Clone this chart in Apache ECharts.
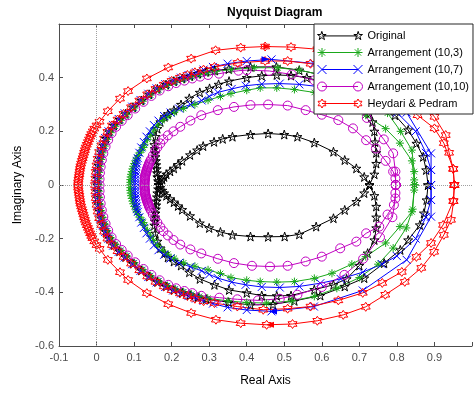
<!DOCTYPE html>
<html>
<head>
<meta charset="utf-8">
<script src="https://cdn.jsdelivr.net/npm/echarts@6.0.0/dist/echarts.min.js"></script>
<style>
  html, body { margin: 0; padding: 0; background: #fff; }
  #chart { width: 475px; height: 395px; }
</style>
</head>
<body>
<div id="chart"></div>
<script>
// axis ranges
const xRange = [-0.1, 1];
const yRange = [-0.6, 0.6];

const names = ['Original', 'Arrangement (10,3)', 'Arrangement (10,7)', 'Arrangement (10,10)', 'Heydari & Pedram'];

// Original (black) - three loops
const blackInner = [[0.165,0],[0.17,0.01],[0.175,0.02],[0.18,0.03],[0.186,0.04],[0.196,0.051],[0.206,0.062],[0.217,0.076],[0.228,0.09],[0.249,0.112],[0.268,0.13],[0.284,0.145],[0.313,0.161],[0.336,0.172],[0.362,0.18],[0.41,0.188],[0.457,0.192],[0.5,0.188],[0.535,0.18],[0.58,0.158],[0.631,0.124],[0.661,0.093],[0.692,0.062],[0.713,0.03],[0.727,0],[0.713,-0.03],[0.692,-0.062],[0.661,-0.093],[0.631,-0.124],[0.585,-0.155],[0.54,-0.184],[0.501,-0.192],[0.457,-0.193],[0.41,-0.192],[0.362,-0.186],[0.33,-0.175],[0.3,-0.16],[0.275,-0.142],[0.249,-0.115],[0.228,-0.092],[0.217,-0.078],[0.206,-0.064],[0.196,-0.052],[0.186,-0.04],[0.18,-0.03],[0.175,-0.02],[0.17,-0.01],[0.165,0]];
const blackMiddle = [[0.727,0],[0.74,0.04],[0.745,0.08],[0.745,0.12],[0.742,0.16],[0.74,0.2],[0.735,0.235],[0.727,0.267],[0.7,0.31],[0.66,0.35],[0.6,0.385],[0.56,0.4],[0.518,0.408],[0.48,0.41],[0.44,0.407],[0.4,0.4],[0.353,0.387],[0.325,0.375],[0.301,0.36],[0.275,0.345],[0.247,0.323],[0.225,0.3],[0.206,0.279],[0.19,0.265],[0.181,0.254],[0.17,0.235],[0.162,0.21],[0.157,0.18],[0.154,0.15],[0.155,0.135],[0.156,0.12],[0.157,0.105],[0.158,0.09],[0.159,0.075],[0.16,0.06],[0.161,0.045],[0.162,0.03],[0.164,0.015],[0.165,0],[0.164,-0.015],[0.162,-0.03],[0.161,-0.045],[0.16,-0.06],[0.159,-0.075],[0.158,-0.09],[0.157,-0.105],[0.156,-0.12],[0.155,-0.135],[0.154,-0.15],[0.157,-0.18],[0.162,-0.21],[0.17,-0.235],[0.181,-0.254],[0.19,-0.27],[0.206,-0.285],[0.225,-0.3],[0.247,-0.325],[0.275,-0.35],[0.314,-0.372],[0.353,-0.391],[0.4,-0.402],[0.44,-0.412],[0.48,-0.413],[0.518,-0.412],[0.58,-0.39],[0.631,-0.372],[0.666,-0.35],[0.7,-0.3],[0.722,-0.254],[0.74,-0.205],[0.745,-0.16],[0.745,-0.12],[0.745,-0.08],[0.74,-0.04],[0.727,0]];
const blackOuter = [[0.883,0],[0.878,0.056],[0.87,0.105],[0.852,0.155],[0.83,0.205],[0.795,0.26],[0.76,0.295],[0.72,0.33],[0.66,0.38],[0.6,0.41],[0.54,0.428],[0.479,0.44],[0.41,0.44],[0.352,0.432],[0.315,0.427],[0.292,0.422],[0.27,0.415],[0.249,0.406],[0.228,0.397],[0.206,0.387],[0.185,0.374],[0.162,0.358],[0.14,0.338],[0.119,0.315],[0.097,0.29],[0.077,0.265],[0.061,0.244],[0.046,0.222],[0.034,0.198],[0.025,0.173],[0.018,0.148],[0.012,0.123],[0.008,0.098],[0.005,0.073],[0.003,0.049],[0.002,0.024],[0.002,0],[0.002,-0.024],[0.003,-0.049],[0.005,-0.074],[0.008,-0.099],[0.012,-0.124],[0.018,-0.149],[0.025,-0.174],[0.034,-0.2],[0.046,-0.224],[0.061,-0.247],[0.077,-0.268],[0.097,-0.293],[0.119,-0.318],[0.14,-0.341],[0.162,-0.361],[0.185,-0.378],[0.206,-0.391],[0.228,-0.401],[0.249,-0.41],[0.27,-0.418],[0.292,-0.425],[0.352,-0.437],[0.41,-0.447],[0.47,-0.445],[0.527,-0.432],[0.596,-0.412],[0.661,-0.378],[0.713,-0.347],[0.766,-0.291],[0.809,-0.242],[0.83,-0.205],[0.861,-0.149],[0.872,-0.105],[0.879,-0.056],[0.883,0]];

// Arrangement (10,3) (green)
const greenInner = [[0.847,0],[0.846,0.019],[0.84,0.09],[0.808,0.156],[0.77,0.21],[0.717,0.26],[0.68,0.29],[0.627,0.328],[0.58,0.345],[0.527,0.356],[0.48,0.362],[0.436,0.362],[0.4,0.353],[0.358,0.341],[0.33,0.33],[0.297,0.316],[0.262,0.3],[0.232,0.285],[0.207,0.27],[0.19,0.255],[0.175,0.24],[0.162,0.223],[0.152,0.205],[0.144,0.188],[0.136,0.17],[0.128,0.15],[0.124,0.14],[0.12,0.13],[0.115,0.12],[0.111,0.11],[0.107,0.1],[0.104,0.09],[0.101,0.08],[0.098,0.07],[0.096,0.06],[0.094,0.05],[0.092,0.04],[0.091,0.03],[0.09,0.02],[0.09,0.01],[0.09,0],[0.09,-0.01],[0.09,-0.02],[0.091,-0.03],[0.092,-0.04],[0.094,-0.05],[0.096,-0.06],[0.098,-0.07],[0.101,-0.08],[0.104,-0.09],[0.107,-0.1],[0.111,-0.11],[0.115,-0.12],[0.12,-0.13],[0.124,-0.14],[0.128,-0.15],[0.136,-0.17],[0.144,-0.19],[0.152,-0.207],[0.162,-0.225],[0.175,-0.243],[0.19,-0.258],[0.207,-0.273],[0.232,-0.29],[0.262,-0.303],[0.297,-0.316],[0.33,-0.33],[0.358,-0.345],[0.4,-0.355],[0.436,-0.36],[0.48,-0.362],[0.527,-0.36],[0.58,-0.348],[0.627,-0.329],[0.68,-0.295],[0.717,-0.267],[0.77,-0.216],[0.808,-0.155],[0.84,-0.1],[0.846,-0.019],[0.847,0]];
const greenOuter = [[0.847,0],[0.846,0.05],[0.84,0.13],[0.81,0.2],[0.775,0.268],[0.72,0.33],[0.66,0.38],[0.6,0.41],[0.54,0.428],[0.483,0.437],[0.42,0.437],[0.36,0.43],[0.318,0.424],[0.296,0.418],[0.274,0.411],[0.253,0.403],[0.232,0.394],[0.21,0.384],[0.189,0.371],[0.166,0.355],[0.144,0.335],[0.123,0.312],[0.101,0.287],[0.081,0.262],[0.065,0.241],[0.05,0.219],[0.038,0.195],[0.029,0.17],[0.022,0.145],[0.016,0.12],[0.012,0.095],[0.009,0.07],[0.007,0.047],[0.006,0.023],[0.006,0],[0.006,-0.023],[0.007,-0.047],[0.009,-0.071],[0.012,-0.096],[0.016,-0.121],[0.022,-0.146],[0.029,-0.171],[0.038,-0.197],[0.05,-0.222],[0.065,-0.244],[0.081,-0.265],[0.101,-0.29],[0.123,-0.315],[0.144,-0.338],[0.166,-0.358],[0.189,-0.375],[0.21,-0.388],[0.232,-0.398],[0.253,-0.407],[0.274,-0.415],[0.296,-0.422],[0.35,-0.432],[0.4,-0.438],[0.453,-0.44],[0.52,-0.432],[0.58,-0.415],[0.64,-0.385],[0.7,-0.345],[0.75,-0.295],[0.79,-0.235],[0.825,-0.16],[0.842,-0.09],[0.847,0]];

// Arrangement (10,7) (blue)
const blueInner = [[0.891,0],[0.891,0.056],[0.877,0.12],[0.85,0.2],[0.8,0.27],[0.76,0.3],[0.709,0.33],[0.65,0.355],[0.596,0.366],[0.54,0.375],[0.488,0.378],[0.44,0.376],[0.397,0.37],[0.36,0.358],[0.323,0.345],[0.3,0.33],[0.28,0.315],[0.25,0.3],[0.22,0.285],[0.197,0.27],[0.18,0.257],[0.165,0.24],[0.153,0.223],[0.142,0.2],[0.133,0.18],[0.126,0.16],[0.119,0.14],[0.114,0.12],[0.11,0.1],[0.108,0.09],[0.107,0.08],[0.106,0.07],[0.105,0.06],[0.104,0.05],[0.104,0.04],[0.103,0.03],[0.103,0.02],[0.103,0.01],[0.103,0],[0.103,-0.01],[0.103,-0.02],[0.103,-0.03],[0.104,-0.04],[0.104,-0.05],[0.105,-0.06],[0.106,-0.07],[0.107,-0.08],[0.108,-0.09],[0.11,-0.1],[0.114,-0.12],[0.119,-0.14],[0.126,-0.16],[0.133,-0.18],[0.142,-0.2],[0.153,-0.225],[0.165,-0.243],[0.18,-0.26],[0.197,-0.274],[0.22,-0.29],[0.25,-0.305],[0.28,-0.32],[0.3,-0.333],[0.323,-0.347],[0.36,-0.362],[0.397,-0.372],[0.44,-0.38],[0.488,-0.382],[0.54,-0.378],[0.596,-0.366],[0.65,-0.35],[0.709,-0.325],[0.76,-0.295],[0.8,-0.265],[0.85,-0.2],[0.877,-0.12],[0.891,-0.056],[0.891,0]];
const blueOuter = [[0.891,0],[0.891,0.056],[0.891,0.118],[0.826,0.27],[0.709,0.393],[0.579,0.453],[0.466,0.468],[0.4,0.462],[0.349,0.452],[0.31,0.44],[0.285,0.43],[0.265,0.42],[0.245,0.41],[0.225,0.4],[0.204,0.389],[0.183,0.376],[0.16,0.36],[0.138,0.34],[0.117,0.317],[0.095,0.292],[0.075,0.267],[0.059,0.246],[0.044,0.224],[0.032,0.2],[0.023,0.175],[0.016,0.15],[0.01,0.125],[0.006,0.1],[0.003,0.075],[0.001,0.05],[0,0.025],[0,0],[0,-0.025],[0.001,-0.05],[0.003,-0.075],[0.006,-0.1],[0.01,-0.125],[0.016,-0.15],[0.023,-0.175],[0.032,-0.2],[0.044,-0.226],[0.059,-0.249],[0.075,-0.27],[0.095,-0.295],[0.117,-0.32],[0.138,-0.343],[0.16,-0.363],[0.183,-0.38],[0.204,-0.393],[0.225,-0.404],[0.245,-0.414],[0.265,-0.423],[0.285,-0.432],[0.31,-0.442],[0.349,-0.456],[0.4,-0.466],[0.466,-0.471],[0.579,-0.453],[0.709,-0.393],[0.826,-0.279],[0.891,-0.118],[0.891,-0.056],[0.891,0]];

// Arrangement (10,10) (magenta)
const magentaInner = [[0.797,0],[0.796,0.025],[0.79,0.05],[0.77,0.09],[0.744,0.136],[0.718,0.167],[0.683,0.211],[0.644,0.242],[0.6,0.262],[0.557,0.279],[0.509,0.296],[0.457,0.3],[0.41,0.298],[0.366,0.291],[0.323,0.279],[0.279,0.26],[0.25,0.24],[0.223,0.217],[0.205,0.2],[0.19,0.185],[0.178,0.17],[0.17,0.155],[0.162,0.14],[0.156,0.126],[0.15,0.11],[0.145,0.095],[0.142,0.087],[0.14,0.08],[0.139,0.076],[0.138,0.072],[0.137,0.068],[0.136,0.065],[0.135,0.061],[0.134,0.057],[0.133,0.053],[0.133,0.05],[0.132,0.046],[0.131,0.042],[0.13,0.038],[0.13,0.035],[0.129,0.031],[0.129,0.027],[0.129,0.023],[0.129,0.02],[0.128,0.015],[0.128,0.01],[0.128,0.005],[0.128,0],[0.128,-0.005],[0.128,-0.01],[0.128,-0.015],[0.129,-0.02],[0.129,-0.023],[0.129,-0.027],[0.129,-0.031],[0.13,-0.035],[0.13,-0.038],[0.131,-0.042],[0.132,-0.046],[0.133,-0.05],[0.133,-0.053],[0.134,-0.057],[0.135,-0.061],[0.136,-0.065],[0.137,-0.068],[0.138,-0.072],[0.139,-0.076],[0.14,-0.08],[0.142,-0.087],[0.145,-0.095],[0.15,-0.11],[0.156,-0.126],[0.162,-0.14],[0.17,-0.157],[0.178,-0.172],[0.19,-0.188],[0.205,-0.205],[0.223,-0.222],[0.25,-0.24],[0.279,-0.255],[0.323,-0.275],[0.366,-0.291],[0.414,-0.301],[0.462,-0.304],[0.509,-0.301],[0.557,-0.285],[0.6,-0.267],[0.649,-0.236],[0.692,-0.211],[0.718,-0.18],[0.753,-0.155],[0.775,-0.11],[0.792,-0.074],[0.796,-0.03],[0.797,0]];
const magentaOuter = [[0.797,0],[0.796,0.05],[0.79,0.118],[0.765,0.17],[0.72,0.25],[0.68,0.3],[0.63,0.35],[0.58,0.39],[0.52,0.412],[0.46,0.425],[0.4,0.428],[0.378,0.426],[0.326,0.415],[0.297,0.41],[0.276,0.404],[0.255,0.397],[0.234,0.389],[0.212,0.38],[0.191,0.368],[0.168,0.352],[0.146,0.332],[0.125,0.31],[0.103,0.285],[0.083,0.26],[0.067,0.239],[0.052,0.217],[0.04,0.193],[0.031,0.168],[0.024,0.143],[0.018,0.118],[0.014,0.093],[0.011,0.068],[0.009,0.045],[0.008,0.022],[0.008,0],[0.008,-0.022],[0.009,-0.045],[0.011,-0.069],[0.014,-0.094],[0.018,-0.119],[0.024,-0.144],[0.031,-0.169],[0.04,-0.195],[0.052,-0.22],[0.067,-0.242],[0.083,-0.263],[0.103,-0.288],[0.125,-0.313],[0.146,-0.335],[0.168,-0.355],[0.191,-0.372],[0.212,-0.385],[0.234,-0.395],[0.255,-0.403],[0.279,-0.413],[0.327,-0.42],[0.375,-0.426],[0.43,-0.43],[0.488,-0.424],[0.535,-0.409],[0.6,-0.38],[0.66,-0.335],[0.71,-0.275],[0.755,-0.195],[0.788,-0.12],[0.796,-0.05],[0.797,0]];

// Heydari & Pedram (red)
const redInner = [[0.953,0],[0.95,0.06],[0.925,0.156],[0.9,0.211],[0.855,0.26],[0.81,0.318],[0.76,0.362],[0.709,0.398],[0.644,0.43],[0.57,0.452],[0.509,0.462],[0.449,0.462],[0.376,0.455],[0.314,0.44],[0.285,0.43],[0.262,0.42],[0.242,0.41],[0.222,0.4],[0.2,0.388],[0.179,0.374],[0.157,0.358],[0.135,0.338],[0.114,0.315],[0.092,0.29],[0.072,0.265],[0.056,0.244],[0.041,0.222],[0.029,0.198],[0.02,0.173],[0.013,0.148],[0.007,0.123],[0.003,0.098],[0,0.073],[-0.002,0.049],[-0.003,0.024],[-0.004,0],[-0.003,-0.024],[-0.002,-0.049],[0,-0.074],[0.003,-0.099],[0.007,-0.124],[0.013,-0.149],[0.02,-0.174],[0.029,-0.2],[0.041,-0.224],[0.056,-0.247],[0.072,-0.268],[0.092,-0.293],[0.114,-0.318],[0.135,-0.341],[0.157,-0.361],[0.179,-0.378],[0.2,-0.392],[0.222,-0.404],[0.242,-0.414],[0.262,-0.424],[0.285,-0.433],[0.314,-0.44],[0.375,-0.453],[0.444,-0.465],[0.509,-0.461],[0.57,-0.453],[0.644,-0.43],[0.709,-0.402],[0.761,-0.365],[0.813,-0.324],[0.852,-0.268],[0.891,-0.216],[0.923,-0.149],[0.95,-0.06],[0.953,0]];
const redOuter = [[0.953,0],[0.95,0.06],[0.939,0.12],[0.93,0.186],[0.9,0.254],[0.865,0.309],[0.821,0.361],[0.769,0.409],[0.717,0.454],[0.657,0.484],[0.588,0.506],[0.518,0.514],[0.449,0.516],[0.384,0.512],[0.317,0.502],[0.252,0.471],[0.191,0.438],[0.134,0.397],[0.084,0.35],[0.0625,0.322],[0.03,0.275],[0.008,0.236],[0,0.222],[-0.006,0.21],[-0.01,0.2],[-0.014,0.19],[-0.017,0.18],[-0.02,0.17],[-0.023,0.16],[-0.026,0.15],[-0.029,0.14],[-0.031,0.13],[-0.033,0.12],[-0.035,0.11],[-0.037,0.1],[-0.039,0.09],[-0.041,0.08],[-0.043,0.07],[-0.044,0.06],[-0.045,0.05],[-0.046,0.04],[-0.047,0.03],[-0.048,0.02],[-0.049,0.01],[-0.049,0],[-0.049,-0.01],[-0.048,-0.02],[-0.047,-0.03],[-0.046,-0.04],[-0.045,-0.05],[-0.044,-0.06],[-0.043,-0.07],[-0.041,-0.08],[-0.039,-0.09],[-0.037,-0.1],[-0.035,-0.11],[-0.033,-0.12],[-0.031,-0.13],[-0.029,-0.14],[-0.026,-0.15],[-0.023,-0.16],[-0.02,-0.17],[-0.017,-0.18],[-0.014,-0.19],[-0.011,-0.198],[-0.006,-0.21],[0,-0.224],[0.008,-0.238],[0.03,-0.279],[0.0625,-0.325],[0.084,-0.354],[0.134,-0.403],[0.191,-0.444],[0.252,-0.477],[0.318,-0.502],[0.384,-0.515],[0.453,-0.521],[0.522,-0.518],[0.588,-0.506],[0.657,-0.484],[0.717,-0.454],[0.769,-0.409],[0.821,-0.361],[0.865,-0.309],[0.899,-0.249],[0.925,-0.186],[0.944,-0.13],[0.951,-0.06],[0.953,0]];

// direction arrows on the curves: [x, y, rotation]
const redArrows = [[0.455, 0.516, -90], [0.462, -0.521, 90]];
const blueArrows = [[0.45, 0.469, -90], [0.47, -0.471, 90]];

// MATLAB-like markers
const pentagram = 'M50,0 L61.2,34.5 L97.6,34.5 L68.2,55.9 L79.4,90.5 L50,69.1 L20.6,90.5 L31.8,55.9 L2.4,34.5 L38.8,34.5 Z';
const asterisk = 'M50,0 L50,100 M0,50 L100,50 M15,15 L85,85 M85,15 L15,85';
const cross = 'M0,0 L100,100 M100,0 L0,100';
const circle = 'M0,50 A50,50 0 1,0 100,50 A50,50 0 1,0 0,50 Z';
const hexagram = 'M50,0 L64.4,25 L93.3,25 L78.9,50 L93.3,75 L64.4,75 L50,100 L35.6,75 L6.7,75 L21.1,50 L6.7,25 L35.6,25 Z';
const markers = [pentagram, asterisk, cross, circle, hexagram];
const markerSizes = [9, 8, 8, 9, 9];

// legend icon: marker, line, marker (shift the marker path by 400 for the right one)
function shiftPath(p, dx) {
  return p.replace(/([ML])(-?[\d.]+),/g, (m, c, x) => c + (parseFloat(x) + dx) + ',')
          .replace(/A50,50 0 1,0 (-?[\d.]+),/g, (m, x) => 'A50,50 0 1,0 ' + (parseFloat(x) + dx) + ',');
}
function legendIcon(p) {
  return 'path://' + p + ' ' + shiftPath(p, 400) + ' M50,50 L450,50';
}

const colors = ['#000000', '#1aa81a', '#0000ff', '#c000c0', '#ff0000'];

function loop(idx, data, extra) {
  return Object.assign({
    name: names[idx],
    type: 'line',
    data: data,
    symbol: 'path://' + markers[idx],
    symbolSize: markerSizes[idx],
    showAllSymbol: true,
    lineStyle: { color: colors[idx], width: 1 },
    itemStyle: { color: 'rgba(255,255,255,0)', borderColor: colors[idx], borderWidth: 1 },
    emphasis: { disabled: true },
  }, extra || {});
}

function arrows(list, color) {
  return {
    markPoint: {
      silent: true,
      symbol: 'triangle',
      symbolSize: [6, 8],
      label: { show: false },
      itemStyle: { color: color, borderWidth: 0 },
      data: list.map((a) => ({ coord: [a[0], a[1]], symbolRotate: a[2] })),
    },
  };
}

const chart = echarts.init(document.getElementById('chart'));
const font = 'Liberation Sans, Arial, Helvetica, sans-serif';
const axisColor = '#4d4d4d';

const option = {
  animation: false,
  textStyle: { fontFamily: font },
  title: {
    text: 'Nyquist Diagram',
    left: 222,
    top: 2,
    textStyle: { fontSize: 12, fontWeight: 'bold', color: '#000', fontFamily: font },
  },
  legend: {
    data: names.map((n, i) => ({ name: n, icon: legendIcon(markers[i]) })),
    orient: 'vertical',
    left: 314,
    top: 24,
    padding: [5, 4, 4, 3],
    itemWidth: 45,
    itemHeight: 9,
    itemGap: 4,
    backgroundColor: '#fff',
    borderColor: '#262626',
    borderWidth: 1,
    itemStyle: { color: 'rgba(255,255,255,0)', borderWidth: 1 },
    textStyle: { fontSize: 11, color: '#000', lineHeight: 13, fontFamily: font },
  },
  grid: { left: 59, top: 24, width: 422, height: 322 },
  xAxis: [
    {
      type: 'value',
      min: xRange[0],
      max: xRange[1],
      interval: 0.1,
      name: 'Real Axis',
      nameLocation: 'middle',
      nameGap: 29,
      nameTextStyle: { fontSize: 12, color: '#000', fontFamily: font },
      axisLine: { onZero: false, lineStyle: { color: axisColor } },
      axisTick: { inside: true, length: 4, lineStyle: { color: axisColor } },
      axisLabel: {
        color: axisColor,
        fontSize: 11,
        margin: 6,
        formatter: (v) => (v > 0.95 ? '' : String(Math.round(v * 10) / 10)),
      },
      splitLine: { show: false },
    },
    {
      type: 'value',
      position: 'top',
      min: xRange[0],
      max: xRange[1],
      interval: 0.1,
      axisLine: { onZero: false, lineStyle: { color: axisColor } },
      axisTick: { inside: true, length: 4, lineStyle: { color: axisColor } },
      axisLabel: { show: false },
      splitLine: { show: false },
    },
  ],
  yAxis: {
    type: 'value',
    min: yRange[0],
    max: yRange[1],
    interval: 0.2,
    name: 'Imaginary Axis',
    nameLocation: 'middle',
    nameGap: 34,
    nameTextStyle: { fontSize: 12, color: '#000', fontFamily: font },
    axisLine: { onZero: false, lineStyle: { color: axisColor } },
    axisTick: { inside: true, length: 4, lineStyle: { color: axisColor } },
    axisLabel: {
      color: axisColor,
      fontSize: 11,
      margin: 5,
      formatter: (v) => (v > 0.5 ? '' : String(Math.round(v * 10) / 10)),
    },
    splitLine: { show: false },
  },
  series: [
    {
      type: 'line',
      data: [],
      silent: true,
      z: 1,
      markLine: {
        silent: true,
        symbol: 'none',
        label: { show: false },
        lineStyle: { color: '#a0a0a0', type: 'dotted', width: 1 },
        data: [{ xAxis: 0 }, { yAxis: 0 }],
      },
    },
    loop(0, blackInner),
    loop(0, blackMiddle),
    loop(0, blackOuter),
    loop(1, greenInner),
    loop(1, greenOuter),
    loop(2, blueInner),
    loop(2, blueOuter, arrows(blueArrows, colors[2])),
    loop(3, magentaInner),
    loop(3, magentaOuter),
    loop(4, redInner),
    loop(4, redOuter, arrows(redArrows, colors[4])),
  ],
};

chart.setOption(option);
</script>
</body>
</html>
